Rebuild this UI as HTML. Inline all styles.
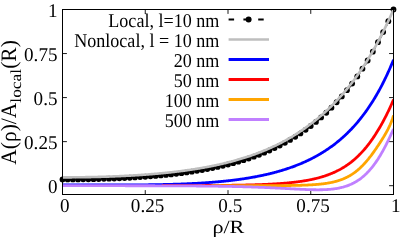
<!DOCTYPE html>
<html><head><meta charset="utf-8"><title>chart</title>
<style>html,body{margin:0;padding:0;background:#fff;}body{width:407px;height:244px;overflow:hidden;font-family:"Liberation Serif",serif;}</style>
</head><body>
<svg width="407" height="244" viewBox="0 0 407 244" style="display:block">
<rect x="0" y="0" width="407" height="244" fill="#fff"/>
<defs><clipPath id="d"><rect x="62.50" y="9.50" width="331.50" height="185.00"/></clipPath><clipPath id="c"><rect x="59.00" y="6.00" width="338.00" height="188.50"/></clipPath></defs>
<path d="M145.25,194.5 v-4.4 M145.25,9.5 v4.4 M228.00,194.5 v-4.4 M228.00,9.5 v4.4 M310.75,194.5 v-4.4 M310.75,9.5 v4.4 M62.5,185.69 h4.4 M393.5,185.69 h-4.4 M62.5,141.64 h4.4 M393.5,141.64 h-4.4 M62.5,97.59 h4.4 M393.5,97.59 h-4.4 M62.5,53.55 h4.4 M393.5,53.55 h-4.4" stroke="#000" stroke-width="0.9" fill="none"/>
<g clip-path="url(#c)">
<path d="M62.50,179.46 L63.33,179.46 L64.16,179.46 L64.99,179.46 L65.82,179.46 L66.65,179.46 L67.48,179.46 L68.31,179.45 L69.14,179.45 L69.97,179.45 L70.80,179.44 L71.63,179.44 L72.45,179.43 L73.28,179.43 L74.11,179.42 L74.94,179.42 L75.77,179.41 L76.60,179.40 L77.43,179.39 L78.26,179.39 L79.09,179.38 L79.92,179.37 L80.75,179.36 L81.58,179.35 L82.41,179.34 L83.24,179.32 L84.07,179.31 L84.90,179.30 L85.73,179.29 L86.56,179.27 L87.39,179.26 L88.22,179.24 L89.05,179.23 L89.88,179.21 L90.71,179.20 L91.54,179.18 L92.36,179.16 L93.19,179.14 L94.02,179.12 L94.85,179.10 L95.68,179.09 L96.51,179.06 L97.34,179.04 L98.17,179.02 L99.00,179.00 L99.83,178.98 L100.66,178.96 L101.49,178.93 L102.32,178.91 L103.15,178.88 L103.98,178.86 L104.81,178.83 L105.64,178.80 L106.47,178.78 L107.30,178.75 L108.13,178.72 L108.96,178.69 L109.79,178.66 L110.62,178.63 L111.44,178.60 L112.27,178.57 L113.10,178.54 L113.93,178.50 L114.76,178.47 L115.59,178.44 L116.42,178.40 L117.25,178.37 L118.08,178.33 L118.91,178.29 L119.74,178.26 L120.57,178.22 L121.40,178.18 L122.23,178.14 L123.06,178.10 L123.89,178.06 L124.72,178.02 L125.55,177.98 L126.38,177.93 L127.21,177.89 L128.04,177.85 L128.87,177.80 L129.70,177.76 L130.53,177.71 L131.35,177.66 L132.18,177.61 L133.01,177.56 L133.84,177.52 L134.67,177.47 L135.50,177.41 L136.33,177.36 L137.16,177.31 L137.99,177.26 L138.82,177.20 L139.65,177.15 L140.48,177.09 L141.31,177.03 L142.14,176.98 L142.97,176.92 L143.80,176.86 L144.63,176.80 L145.46,176.74 L146.29,176.68 L147.12,176.61 L147.95,176.55 L148.78,176.49 L149.61,176.42 L150.43,176.35 L151.26,176.29 L152.09,176.22 L152.92,176.15 L153.75,176.08 L154.58,176.01 L155.41,175.94 L156.24,175.86 L157.07,175.79 L157.90,175.72 L158.73,175.64 L159.56,175.56 L160.39,175.49 L161.22,175.41 L162.05,175.33 L162.88,175.25 L163.71,175.16 L164.54,175.08 L165.37,175.00 L166.20,174.91 L167.03,174.82 L167.86,174.74 L168.69,174.65 L169.52,174.56 L170.34,174.47 L171.17,174.38 L172.00,174.28 L172.83,174.19 L173.66,174.09 L174.49,174.00 L175.32,173.90 L176.15,173.80 L176.98,173.70 L177.81,173.60 L178.64,173.49 L179.47,173.39 L180.30,173.28 L181.13,173.18 L181.96,173.07 L182.79,172.96 L183.62,172.85 L184.45,172.74 L185.28,172.62 L186.11,172.51 L186.94,172.39 L187.77,172.27 L188.60,172.15 L189.42,172.03 L190.25,171.91 L191.08,171.79 L191.91,171.66 L192.74,171.54 L193.57,171.41 L194.40,171.28 L195.23,171.15 L196.06,171.02 L196.89,170.88 L197.72,170.75 L198.55,170.61 L199.38,170.47 L200.21,170.33 L201.04,170.19 L201.87,170.04 L202.70,169.90 L203.53,169.75 L204.36,169.60 L205.19,169.45 L206.02,169.30 L206.85,169.14 L207.68,168.98 L208.51,168.83 L209.33,168.67 L210.16,168.50 L210.99,168.34 L211.82,168.17 L212.65,168.01 L213.48,167.84 L214.31,167.66 L215.14,167.49 L215.97,167.31 L216.80,167.14 L217.63,166.96 L218.46,166.77 L219.29,166.59 L220.12,166.40 L220.95,166.22 L221.78,166.02 L222.61,165.83 L223.44,165.64 L224.27,165.44 L225.10,165.24 L225.93,165.04 L226.76,164.83 L227.59,164.63 L228.41,164.42 L229.24,164.21 L230.07,163.99 L230.90,163.78 L231.73,163.56 L232.56,163.34 L233.39,163.11 L234.22,162.89 L235.05,162.66 L235.88,162.42 L236.71,162.19 L237.54,161.95 L238.37,161.71 L239.20,161.47 L240.03,161.23 L240.86,160.98 L241.69,160.73 L242.52,160.47 L243.35,160.22 L244.18,159.96 L245.01,159.69 L245.84,159.43 L246.67,159.16 L247.49,158.89 L248.32,158.61 L249.15,158.33 L249.98,158.05 L250.81,157.77 L251.64,157.48 L252.47,157.19 L253.30,156.90 L254.13,156.60 L254.96,156.30 L255.79,155.99 L256.62,155.69 L257.45,155.37 L258.28,155.06 L259.11,154.74 L259.94,154.42 L260.77,154.09 L261.60,153.77 L262.43,153.43 L263.26,153.10 L264.09,152.76 L264.92,152.41 L265.75,152.06 L266.58,151.71 L267.40,151.36 L268.23,151.00 L269.06,150.63 L269.89,150.26 L270.72,149.89 L271.55,149.52 L272.38,149.14 L273.21,148.75 L274.04,148.36 L274.87,147.97 L275.70,147.57 L276.53,147.17 L277.36,146.77 L278.19,146.35 L279.02,145.94 L279.85,145.52 L280.68,145.09 L281.51,144.66 L282.34,144.23 L283.17,143.79 L284.00,143.35 L284.83,142.90 L285.66,142.44 L286.48,141.98 L287.31,141.52 L288.14,141.05 L288.97,140.58 L289.80,140.10 L290.63,139.61 L291.46,139.12 L292.29,138.62 L293.12,138.12 L293.95,137.61 L294.78,137.10 L295.61,136.58 L296.44,136.06 L297.27,135.53 L298.10,134.99 L298.93,134.45 L299.76,133.90 L300.59,133.34 L301.42,132.78 L302.25,132.21 L303.08,131.64 L303.91,131.06 L304.74,130.47 L305.57,129.88 L306.39,129.28 L307.22,128.67 L308.05,128.06 L308.88,127.44 L309.71,126.81 L310.54,126.18 L311.37,125.54 L312.20,124.89 L313.03,124.24 L313.86,123.57 L314.69,122.90 L315.52,122.22 L316.35,121.54 L317.18,120.85 L318.01,120.15 L318.84,119.44 L319.67,118.72 L320.50,118.00 L321.33,117.26 L322.16,116.52 L322.99,115.77 L323.82,115.02 L324.65,114.25 L325.47,113.48 L326.30,112.69 L327.13,111.90 L327.96,111.10 L328.79,110.29 L329.62,109.48 L330.45,108.65 L331.28,107.81 L332.11,106.97 L332.94,106.12 L333.77,105.25 L334.60,104.38 L335.43,103.50 L336.26,102.61 L337.09,101.71 L337.92,100.79 L338.75,99.87 L339.58,98.94 L340.41,98.00 L341.24,97.05 L342.07,96.09 L342.90,95.11 L343.73,94.13 L344.56,93.13 L345.38,92.13 L346.21,91.11 L347.04,90.08 L347.87,89.04 L348.70,87.99 L349.53,86.93 L350.36,85.85 L351.19,84.76 L352.02,83.67 L352.85,82.55 L353.68,81.43 L354.51,80.29 L355.34,79.14 L356.17,77.98 L357.00,76.81 L357.83,75.62 L358.66,74.42 L359.49,73.20 L360.32,71.97 L361.15,70.73 L361.98,69.47 L362.81,68.20 L363.64,66.92 L364.46,65.62 L365.29,64.30 L366.12,62.98 L366.95,61.63 L367.78,60.27 L368.61,58.90 L369.44,57.51 L370.27,56.10 L371.10,54.67 L371.93,53.23 L372.76,51.77 L373.59,50.30 L374.42,48.81 L375.25,47.30 L376.08,45.77 L376.91,44.23 L377.74,42.67 L378.57,41.09 L379.40,39.49 L380.23,37.88 L381.06,36.25 L381.89,34.60 L382.72,32.93 L383.55,31.24 L384.37,29.54 L385.20,27.81 L386.03,26.07 L386.86,24.31 L387.69,22.52 L388.52,20.72 L389.35,18.90 L390.18,17.06 L391.01,15.20 L391.84,13.32 L392.67,11.42 L393.50,9.50" stroke="#000" stroke-width="2" fill="none" stroke-dasharray="5.5 9.3"/>
<circle cx="62.50" cy="179.46" r="2.9" fill="#000"/>
<circle cx="67.67" cy="179.46" r="2.9" fill="#000"/>
<circle cx="72.84" cy="179.43" r="2.9" fill="#000"/>
<circle cx="78.02" cy="179.39" r="2.9" fill="#000"/>
<circle cx="83.19" cy="179.32" r="2.9" fill="#000"/>
<circle cx="88.36" cy="179.24" r="2.9" fill="#000"/>
<circle cx="93.53" cy="179.14" r="2.9" fill="#000"/>
<circle cx="98.70" cy="179.01" r="2.9" fill="#000"/>
<circle cx="103.88" cy="178.86" r="2.9" fill="#000"/>
<circle cx="109.05" cy="178.69" r="2.9" fill="#000"/>
<circle cx="114.22" cy="178.49" r="2.9" fill="#000"/>
<circle cx="119.39" cy="178.27" r="2.9" fill="#000"/>
<circle cx="124.56" cy="178.03" r="2.9" fill="#000"/>
<circle cx="129.73" cy="177.75" r="2.9" fill="#000"/>
<circle cx="134.91" cy="177.45" r="2.9" fill="#000"/>
<circle cx="140.08" cy="177.12" r="2.9" fill="#000"/>
<circle cx="145.25" cy="176.75" r="2.9" fill="#000"/>
<circle cx="150.42" cy="176.36" r="2.9" fill="#000"/>
<circle cx="155.59" cy="175.92" r="2.9" fill="#000"/>
<circle cx="160.77" cy="175.45" r="2.9" fill="#000"/>
<circle cx="165.94" cy="174.94" r="2.9" fill="#000"/>
<circle cx="171.11" cy="174.38" r="2.9" fill="#000"/>
<circle cx="176.28" cy="173.78" r="2.9" fill="#000"/>
<circle cx="181.45" cy="173.13" r="2.9" fill="#000"/>
<circle cx="186.62" cy="172.44" r="2.9" fill="#000"/>
<circle cx="191.80" cy="171.68" r="2.9" fill="#000"/>
<circle cx="196.97" cy="170.87" r="2.9" fill="#000"/>
<circle cx="202.14" cy="169.99" r="2.9" fill="#000"/>
<circle cx="207.31" cy="169.05" r="2.9" fill="#000"/>
<circle cx="212.48" cy="168.04" r="2.9" fill="#000"/>
<circle cx="217.66" cy="166.95" r="2.9" fill="#000"/>
<circle cx="222.83" cy="165.78" r="2.9" fill="#000"/>
<circle cx="228.00" cy="164.52" r="2.9" fill="#000"/>
<circle cx="233.17" cy="163.17" r="2.9" fill="#000"/>
<circle cx="238.34" cy="161.72" r="2.9" fill="#000"/>
<circle cx="243.52" cy="160.16" r="2.9" fill="#000"/>
<circle cx="248.69" cy="158.49" r="2.9" fill="#000"/>
<circle cx="253.86" cy="156.70" r="2.9" fill="#000"/>
<circle cx="259.03" cy="154.77" r="2.9" fill="#000"/>
<circle cx="264.20" cy="152.71" r="2.9" fill="#000"/>
<circle cx="269.38" cy="150.50" r="2.9" fill="#000"/>
<circle cx="274.55" cy="148.12" r="2.9" fill="#000"/>
<circle cx="279.72" cy="145.58" r="2.9" fill="#000"/>
<circle cx="284.89" cy="142.86" r="2.9" fill="#000"/>
<circle cx="290.06" cy="139.94" r="2.9" fill="#000"/>
<circle cx="295.23" cy="136.82" r="2.9" fill="#000"/>
<circle cx="300.41" cy="133.46" r="2.9" fill="#000"/>
<circle cx="305.58" cy="129.87" r="2.9" fill="#000"/>
<circle cx="310.75" cy="126.02" r="2.9" fill="#000"/>
<circle cx="315.92" cy="121.89" r="2.9" fill="#000"/>
<circle cx="321.09" cy="117.47" r="2.9" fill="#000"/>
<circle cx="326.27" cy="112.73" r="2.9" fill="#000"/>
<circle cx="331.44" cy="107.66" r="2.9" fill="#000"/>
<circle cx="336.61" cy="102.23" r="2.9" fill="#000"/>
<circle cx="341.78" cy="96.42" r="2.9" fill="#000"/>
<circle cx="346.95" cy="90.19" r="2.9" fill="#000"/>
<circle cx="352.12" cy="83.53" r="2.9" fill="#000"/>
<circle cx="357.30" cy="76.38" r="2.9" fill="#000"/>
<circle cx="362.47" cy="68.72" r="2.9" fill="#000"/>
<circle cx="367.64" cy="60.51" r="2.9" fill="#000"/>
<circle cx="372.81" cy="51.68" r="2.9" fill="#000"/>
<circle cx="377.98" cy="42.20" r="2.9" fill="#000"/>
<circle cx="383.16" cy="32.03" r="2.9" fill="#000"/>
<circle cx="388.33" cy="21.15" r="2.9" fill="#000"/>
<circle cx="393.50" cy="9.50" r="2.9" fill="#000"/>
</g>
<path d="M62.50,177.35 L63.33,177.35 L64.16,177.35 L64.99,177.35 L65.82,177.35 L66.65,177.34 L67.48,177.34 L68.31,177.34 L69.14,177.34 L69.97,177.33 L70.80,177.33 L71.63,177.33 L72.45,177.32 L73.28,177.31 L74.11,177.31 L74.94,177.30 L75.77,177.30 L76.60,177.29 L77.43,177.28 L78.26,177.27 L79.09,177.26 L79.92,177.25 L80.75,177.24 L81.58,177.23 L82.41,177.22 L83.24,177.21 L84.07,177.20 L84.90,177.18 L85.73,177.17 L86.56,177.16 L87.39,177.14 L88.22,177.13 L89.05,177.11 L89.88,177.10 L90.71,177.08 L91.54,177.06 L92.36,177.05 L93.19,177.03 L94.02,177.01 L94.85,176.99 L95.68,176.97 L96.51,176.95 L97.34,176.93 L98.17,176.91 L99.00,176.89 L99.83,176.86 L100.66,176.84 L101.49,176.82 L102.32,176.79 L103.15,176.77 L103.98,176.74 L104.81,176.72 L105.64,176.69 L106.47,176.66 L107.30,176.63 L108.13,176.61 L108.96,176.58 L109.79,176.55 L110.62,176.52 L111.44,176.49 L112.27,176.46 L113.10,176.42 L113.93,176.39 L114.76,176.36 L115.59,176.32 L116.42,176.29 L117.25,176.25 L118.08,176.22 L118.91,176.18 L119.74,176.14 L120.57,176.10 L121.40,176.07 L122.23,176.03 L123.06,175.99 L123.89,175.95 L124.72,175.90 L125.55,175.86 L126.38,175.82 L127.21,175.78 L128.04,175.73 L128.87,175.69 L129.70,175.64 L130.53,175.59 L131.35,175.55 L132.18,175.50 L133.01,175.45 L133.84,175.40 L134.67,175.35 L135.50,175.30 L136.33,175.25 L137.16,175.20 L137.99,175.14 L138.82,175.09 L139.65,175.03 L140.48,174.98 L141.31,174.92 L142.14,174.86 L142.97,174.80 L143.80,174.75 L144.63,174.69 L145.46,174.62 L146.29,174.56 L147.12,174.50 L147.95,174.44 L148.78,174.37 L149.61,174.31 L150.43,174.24 L151.26,174.17 L152.09,174.11 L152.92,174.04 L153.75,173.97 L154.58,173.90 L155.41,173.82 L156.24,173.75 L157.07,173.68 L157.90,173.60 L158.73,173.53 L159.56,173.45 L160.39,173.37 L161.22,173.29 L162.05,173.21 L162.88,173.13 L163.71,173.05 L164.54,172.97 L165.37,172.88 L166.20,172.80 L167.03,172.71 L167.86,172.62 L168.69,172.53 L169.52,172.44 L170.34,172.35 L171.17,172.26 L172.00,172.17 L172.83,172.07 L173.66,171.98 L174.49,171.88 L175.32,171.78 L176.15,171.68 L176.98,171.58 L177.81,171.48 L178.64,171.38 L179.47,171.27 L180.30,171.17 L181.13,171.06 L181.96,170.95 L182.79,170.84 L183.62,170.73 L184.45,170.62 L185.28,170.51 L186.11,170.39 L186.94,170.28 L187.77,170.16 L188.60,170.04 L189.42,169.92 L190.25,169.80 L191.08,169.67 L191.91,169.55 L192.74,169.42 L193.57,169.30 L194.40,169.17 L195.23,169.03 L196.06,168.90 L196.89,168.77 L197.72,168.63 L198.55,168.49 L199.38,168.35 L200.21,168.21 L201.04,168.07 L201.87,167.93 L202.70,167.78 L203.53,167.63 L204.36,167.48 L205.19,167.33 L206.02,167.18 L206.85,167.03 L207.68,166.87 L208.51,166.71 L209.33,166.55 L210.16,166.39 L210.99,166.23 L211.82,166.06 L212.65,165.89 L213.48,165.72 L214.31,165.55 L215.14,165.38 L215.97,165.20 L216.80,165.02 L217.63,164.84 L218.46,164.66 L219.29,164.48 L220.12,164.29 L220.95,164.10 L221.78,163.91 L222.61,163.72 L223.44,163.52 L224.27,163.33 L225.10,163.13 L225.93,162.92 L226.76,162.72 L227.59,162.51 L228.41,162.30 L229.24,162.09 L230.07,161.88 L230.90,161.66 L231.73,161.44 L232.56,161.22 L233.39,161.00 L234.22,160.77 L235.05,160.54 L235.88,160.31 L236.71,160.08 L237.54,159.84 L238.37,159.60 L239.20,159.36 L240.03,159.11 L240.86,158.86 L241.69,158.61 L242.52,158.36 L243.35,158.10 L244.18,157.84 L245.01,157.58 L245.84,157.31 L246.67,157.04 L247.49,156.77 L248.32,156.50 L249.15,156.22 L249.98,155.94 L250.81,155.65 L251.64,155.37 L252.47,155.08 L253.30,154.78 L254.13,154.48 L254.96,154.18 L255.79,153.88 L256.62,153.57 L257.45,153.26 L258.28,152.95 L259.11,152.63 L259.94,152.31 L260.77,151.98 L261.60,151.65 L262.43,151.32 L263.26,150.98 L264.09,150.64 L264.92,150.30 L265.75,149.95 L266.58,149.60 L267.40,149.24 L268.23,148.88 L269.06,148.52 L269.89,148.15 L270.72,147.78 L271.55,147.40 L272.38,147.02 L273.21,146.64 L274.04,146.25 L274.87,145.86 L275.70,145.46 L276.53,145.06 L277.36,144.65 L278.19,144.24 L279.02,143.82 L279.85,143.40 L280.68,142.98 L281.51,142.55 L282.34,142.12 L283.17,141.68 L284.00,141.23 L284.83,140.78 L285.66,140.33 L286.48,139.87 L287.31,139.41 L288.14,138.94 L288.97,138.46 L289.80,137.98 L290.63,137.50 L291.46,137.00 L292.29,136.51 L293.12,136.01 L293.95,135.50 L294.78,134.99 L295.61,134.47 L296.44,133.94 L297.27,133.41 L298.10,132.87 L298.93,132.33 L299.76,131.78 L300.59,131.23 L301.42,130.67 L302.25,130.10 L303.08,129.53 L303.91,128.95 L304.74,128.36 L305.57,127.77 L306.39,127.17 L307.22,126.56 L308.05,125.95 L308.88,125.33 L309.71,124.70 L310.54,124.07 L311.37,123.44 L312.20,122.81 L313.03,122.18 L313.86,121.54 L314.69,120.89 L315.52,120.23 L316.35,119.57 L317.18,118.90 L318.01,118.22 L318.84,117.53 L319.67,116.83 L320.50,116.13 L321.33,115.42 L322.16,114.70 L322.99,113.97 L323.82,113.24 L324.65,112.49 L325.47,111.74 L326.30,110.98 L327.13,110.21 L327.96,109.43 L328.79,108.64 L329.62,107.84 L330.45,107.04 L331.28,106.22 L332.11,105.40 L332.94,104.57 L333.77,103.73 L334.60,102.88 L335.43,102.01 L336.26,101.14 L337.09,100.26 L337.92,99.37 L338.75,98.47 L339.58,97.56 L340.41,96.64 L341.24,95.71 L342.07,94.77 L342.90,93.82 L343.73,92.86 L344.56,91.88 L345.38,90.90 L346.21,89.90 L347.04,88.89 L347.87,87.88 L348.70,86.85 L349.53,85.80 L350.36,84.75 L351.19,83.68 L352.02,82.61 L352.85,81.52 L353.68,80.41 L354.51,79.30 L355.34,78.17 L356.17,77.03 L357.00,75.87 L357.83,74.71 L358.66,73.53 L359.49,72.33 L360.32,71.13 L361.15,69.90 L361.98,68.67 L362.81,67.42 L363.64,66.15 L364.46,64.88 L365.29,63.58 L366.12,62.28 L366.95,60.95 L367.78,59.62 L368.61,58.26 L369.44,56.89 L370.27,55.50 L371.10,54.10 L371.93,52.68 L372.76,51.24 L373.59,49.79 L374.42,48.32 L375.25,46.83 L376.08,45.33 L376.91,43.81 L377.74,42.27 L378.57,40.71 L379.40,39.13 L380.23,37.54 L381.06,35.93 L381.89,34.30 L382.72,32.65 L383.55,30.99 L384.37,29.30 L385.20,27.60 L386.03,25.88 L386.86,24.14 L387.69,22.38 L388.52,20.60 L389.35,18.80 L390.18,16.98 L391.01,15.14 L391.84,13.28 L392.67,11.40 L393.50,9.50" stroke="#bebebe" stroke-width="2.6" fill="none"/>
<path d="M62.50,185.00 L63.16,185.00 L63.83,185.00 L64.49,185.00 L65.15,185.00 L65.82,185.00 L66.48,185.00 L67.14,185.00 L67.81,185.00 L68.47,185.00 L69.13,185.00 L69.80,185.00 L70.46,185.00 L71.12,185.00 L71.79,185.00 L72.45,185.00 L73.11,185.00 L73.78,185.00 L74.44,185.00 L75.10,185.00 L75.77,185.00 L76.43,185.00 L77.09,185.00 L77.76,185.00 L78.42,185.00 L79.08,185.00 L79.75,185.00 L80.41,185.00 L81.07,185.00 L81.74,185.00 L82.40,185.00 L83.06,185.00 L83.73,185.00 L84.39,185.00 L85.05,185.00 L85.72,185.00 L86.38,185.01 L87.04,185.01 L87.71,185.01 L88.37,185.01 L89.03,185.01 L89.70,185.01 L90.36,185.01 L91.02,185.01 L91.69,185.01 L92.35,185.01 L93.01,185.01 L93.68,185.01 L94.34,185.01 L95.00,185.01 L95.67,185.01 L96.33,185.01 L96.99,185.01 L97.66,185.01 L98.32,185.01 L98.98,185.01 L99.65,185.01 L100.31,185.01 L100.97,185.01 L101.64,185.01 L102.30,185.00 L102.96,185.00 L103.63,185.00 L104.29,185.00 L104.95,185.00 L105.62,185.00 L106.28,185.00 L106.94,185.00 L107.61,185.00 L108.27,185.00 L108.93,185.00 L109.60,185.00 L110.26,185.00 L110.92,185.00 L111.59,185.00 L112.25,184.99 L112.91,184.99 L113.58,184.99 L114.24,184.99 L114.90,184.99 L115.57,184.99 L116.23,184.99 L116.89,184.99 L117.56,184.98 L118.22,184.98 L118.88,184.98 L119.55,184.98 L120.21,184.98 L120.87,184.97 L121.54,184.97 L122.20,184.97 L122.86,184.97 L123.53,184.97 L124.19,184.96 L124.85,184.96 L125.52,184.96 L126.18,184.95 L126.84,184.95 L127.51,184.95 L128.17,184.95 L128.83,184.94 L129.50,184.94 L130.16,184.94 L130.82,184.93 L131.49,184.93 L132.15,184.92 L132.81,184.92 L133.48,184.92 L134.14,184.91 L134.80,184.91 L135.47,184.90 L136.13,184.90 L136.79,184.89 L137.46,184.89 L138.12,184.88 L138.78,184.88 L139.45,184.87 L140.11,184.86 L140.77,184.86 L141.44,184.85 L142.10,184.85 L142.76,184.84 L143.43,184.83 L144.09,184.83 L144.75,184.82 L145.42,184.81 L146.08,184.80 L146.74,184.80 L147.41,184.79 L148.07,184.78 L148.73,184.77 L149.40,184.76 L150.06,184.75 L150.72,184.74 L151.39,184.74 L152.05,184.73 L152.71,184.72 L153.38,184.71 L154.04,184.70 L154.70,184.69 L155.37,184.67 L156.03,184.66 L156.69,184.65 L157.36,184.64 L158.02,184.63 L158.68,184.62 L159.35,184.60 L160.01,184.59 L160.67,184.58 L161.34,184.57 L162.00,184.55 L162.66,184.54 L163.33,184.52 L163.99,184.51 L164.65,184.49 L165.32,184.48 L165.98,184.46 L166.64,184.45 L167.31,184.43 L167.97,184.42 L168.63,184.40 L169.30,184.38 L169.96,184.36 L170.62,184.35 L171.29,184.33 L171.95,184.31 L172.61,184.29 L173.28,184.27 L173.94,184.25 L174.60,184.23 L175.27,184.21 L175.93,184.19 L176.59,184.17 L177.26,184.15 L177.92,184.12 L178.58,184.10 L179.25,184.08 L179.91,184.06 L180.57,184.03 L181.24,184.01 L181.90,183.98 L182.56,183.96 L183.23,183.93 L183.89,183.91 L184.55,183.88 L185.22,183.85 L185.88,183.82 L186.54,183.80 L187.21,183.77 L187.87,183.74 L188.53,183.71 L189.20,183.68 L189.86,183.65 L190.52,183.62 L191.19,183.59 L191.85,183.55 L192.51,183.52 L193.18,183.49 L193.84,183.45 L194.50,183.42 L195.17,183.39 L195.83,183.35 L196.49,183.31 L197.16,183.28 L197.82,183.24 L198.48,183.20 L199.15,183.16 L199.81,183.12 L200.47,183.08 L201.14,183.04 L201.80,183.00 L202.46,182.96 L203.13,182.92 L203.79,182.88 L204.45,182.83 L205.12,182.79 L205.78,182.74 L206.44,182.70 L207.11,182.65 L207.77,182.60 L208.43,182.56 L209.10,182.51 L209.76,182.46 L210.42,182.41 L211.09,182.36 L211.75,182.31 L212.41,182.25 L213.08,182.20 L213.74,182.15 L214.40,182.09 L215.07,182.04 L215.73,181.98 L216.39,181.92 L217.06,181.87 L217.72,181.81 L218.38,181.75 L219.05,181.69 L219.71,181.63 L220.37,181.56 L221.04,181.50 L221.70,181.44 L222.36,181.37 L223.03,181.31 L223.69,181.24 L224.35,181.17 L225.02,181.10 L225.68,181.03 L226.34,180.96 L227.01,180.89 L227.67,180.82 L228.33,180.75 L228.99,180.67 L229.66,180.60 L230.32,180.52 L230.98,180.44 L231.65,180.37 L232.31,180.29 L232.97,180.21 L233.64,180.12 L234.30,180.04 L234.96,179.96 L235.63,179.87 L236.29,179.79 L236.95,179.70 L237.62,179.61 L238.28,179.52 L238.94,179.43 L239.61,179.34 L240.27,179.25 L240.93,179.15 L241.60,179.06 L242.26,178.96 L242.92,178.86 L243.59,178.76 L244.25,178.66 L244.91,178.56 L245.58,178.46 L246.24,178.35 L246.90,178.25 L247.57,178.14 L248.23,178.03 L248.89,177.92 L249.56,177.81 L250.22,177.70 L250.88,177.59 L251.55,177.47 L252.21,177.36 L252.87,177.24 L253.54,177.12 L254.20,177.00 L254.86,176.87 L255.53,176.75 L256.19,176.63 L256.85,176.50 L257.52,176.37 L258.18,176.24 L258.84,176.11 L259.51,175.97 L260.17,175.84 L260.83,175.70 L261.50,175.56 L262.16,175.42 L262.82,175.28 L263.49,175.14 L264.15,174.99 L264.81,174.85 L265.48,174.70 L266.14,174.55 L266.80,174.40 L267.47,174.24 L268.13,174.09 L268.79,173.93 L269.46,173.77 L270.12,173.61 L270.78,173.44 L271.45,173.28 L272.11,173.11 L272.77,172.94 L273.44,172.77 L274.10,172.60 L274.76,172.42 L275.43,172.24 L276.09,172.06 L276.75,171.88 L277.42,171.70 L278.08,171.51 L278.74,171.32 L279.41,171.13 L280.07,170.94 L280.73,170.75 L281.40,170.55 L282.06,170.35 L282.72,170.15 L283.39,169.94 L284.05,169.74 L284.71,169.53 L285.38,169.31 L286.04,169.10 L286.70,168.88 L287.37,168.66 L288.03,168.44 L288.69,168.22 L289.36,167.99 L290.02,167.76 L290.68,167.53 L291.35,167.29 L292.01,167.06 L292.67,166.82 L293.34,166.57 L294.00,166.33 L294.66,166.08 L295.33,165.83 L295.99,165.57 L296.65,165.31 L297.32,165.05 L297.98,164.79 L298.64,164.52 L299.31,164.25 L299.97,163.98 L300.63,163.70 L301.30,163.42 L301.96,163.14 L302.62,162.85 L303.29,162.56 L303.95,162.27 L304.61,161.97 L305.28,161.67 L305.94,161.37 L306.60,161.06 L307.27,160.75 L307.93,160.44 L308.59,160.12 L309.26,159.80 L309.92,159.47 L310.58,159.14 L311.25,158.81 L311.91,158.47 L312.57,158.13 L313.24,157.79 L313.90,157.44 L314.56,157.08 L315.23,156.73 L315.89,156.37 L316.55,156.00 L317.22,155.63 L317.88,155.26 L318.54,154.88 L319.21,154.49 L319.87,154.10 L320.53,153.71 L321.20,153.31 L321.86,152.91 L322.52,152.50 L323.19,152.09 L323.85,151.68 L324.51,151.25 L325.18,150.83 L325.84,150.40 L326.50,149.96 L327.17,149.52 L327.83,149.07 L328.49,148.62 L329.16,148.16 L329.82,147.69 L330.48,147.22 L331.15,146.75 L331.81,146.27 L332.47,145.78 L333.14,145.29 L333.80,144.79 L334.46,144.28 L335.13,143.77 L335.79,143.25 L336.45,142.73 L337.12,142.20 L337.78,141.66 L338.44,141.12 L339.11,140.57 L339.77,140.01 L340.43,139.45 L341.10,138.88 L341.76,138.30 L342.42,137.72 L343.09,137.13 L343.75,136.53 L344.41,135.92 L345.08,135.30 L345.74,134.68 L346.40,134.05 L347.07,133.41 L347.73,132.77 L348.39,132.11 L349.06,131.45 L349.72,130.78 L350.38,130.10 L351.05,129.41 L351.71,128.72 L352.37,128.01 L353.04,127.30 L353.70,126.57 L354.36,125.84 L355.03,125.10 L355.69,124.35 L356.35,123.58 L357.02,122.81 L357.68,122.03 L358.34,121.24 L359.01,120.44 L359.67,119.63 L360.33,118.80 L361.00,117.97 L361.66,117.13 L362.32,116.27 L362.99,115.41 L363.65,114.53 L364.31,113.64 L364.98,112.74 L365.64,111.82 L366.30,110.90 L366.97,109.96 L367.63,109.01 L368.29,108.05 L368.96,107.07 L369.62,106.08 L370.28,105.08 L370.95,104.07 L371.61,103.04 L372.27,102.00 L372.94,100.94 L373.60,99.87 L374.26,98.78 L374.93,97.68 L375.59,96.57 L376.25,95.44 L376.92,94.29 L377.58,93.13 L378.24,91.95 L378.91,90.76 L379.57,89.55 L380.23,88.32 L380.90,87.07 L381.56,85.81 L382.22,84.53 L382.89,83.24 L383.55,81.92 L384.21,80.59 L384.88,79.24 L385.54,77.87 L386.20,76.48 L386.87,75.07 L387.53,73.64 L388.19,72.19 L388.86,70.72 L389.52,69.23 L390.18,67.72 L390.85,66.18 L391.51,64.63 L392.17,63.05 L392.84,61.45 L393.50,59.82" stroke="#0000ff" stroke-width="2.8" fill="none" stroke-linejoin="round" clip-path="url(#d)"/>
<path d="M161.80,185.66 L162.26,185.66 L162.73,185.66 L163.19,185.66 L163.66,185.66 L164.12,185.66 L164.59,185.66 L165.05,185.65 L165.51,185.65 L165.98,185.65 L166.44,185.65 L166.91,185.65 L167.37,185.65 L167.84,185.65 L168.30,185.65 L168.76,185.65 L169.23,185.65 L169.69,185.65 L170.16,185.65 L170.62,185.65 L171.09,185.64 L171.55,185.64 L172.02,185.64 L172.48,185.64 L172.94,185.64 L173.41,185.64 L173.87,185.64 L174.34,185.64 L174.80,185.64 L175.27,185.64 L175.73,185.63 L176.19,185.63 L176.66,185.63 L177.12,185.63 L177.59,185.63 L178.05,185.63 L178.52,185.63 L178.98,185.63 L179.44,185.63 L179.91,185.62 L180.37,185.62 L180.84,185.62 L181.30,185.62 L181.77,185.62 L182.23,185.62 L182.69,185.62 L183.16,185.62 L183.62,185.61 L184.09,185.61 L184.55,185.61 L185.02,185.61 L185.48,185.61 L185.95,185.61 L186.41,185.61 L186.87,185.60 L187.34,185.60 L187.80,185.60 L188.27,185.60 L188.73,185.60 L189.20,185.60 L189.66,185.60 L190.12,185.59 L190.59,185.59 L191.05,185.59 L191.52,185.59 L191.98,185.59 L192.45,185.59 L192.91,185.58 L193.37,185.58 L193.84,185.58 L194.30,185.58 L194.77,185.58 L195.23,185.57 L195.70,185.57 L196.16,185.57 L196.62,185.57 L197.09,185.57 L197.55,185.56 L198.02,185.56 L198.48,185.56 L198.95,185.56 L199.41,185.56 L199.87,185.55 L200.34,185.55 L200.80,185.55 L201.27,185.55 L201.73,185.54 L202.20,185.54 L202.66,185.54 L203.13,185.54 L203.59,185.53 L204.05,185.53 L204.52,185.53 L204.98,185.53 L205.45,185.52 L205.91,185.52 L206.38,185.52 L206.84,185.51 L207.30,185.51 L207.77,185.51 L208.23,185.51 L208.70,185.50 L209.16,185.50 L209.63,185.50 L210.09,185.49 L210.55,185.49 L211.02,185.49 L211.48,185.48 L211.95,185.48 L212.41,185.48 L212.88,185.47 L213.34,185.47 L213.80,185.47 L214.27,185.46 L214.73,185.46 L215.20,185.46 L215.66,185.45 L216.13,185.45 L216.59,185.44 L217.06,185.44 L217.52,185.44 L217.98,185.43 L218.45,185.43 L218.91,185.42 L219.38,185.42 L219.84,185.41 L220.31,185.41 L220.77,185.41 L221.23,185.40 L221.70,185.40 L222.16,185.39 L222.63,185.39 L223.09,185.38 L223.56,185.38 L224.02,185.37 L224.48,185.37 L224.95,185.36 L225.41,185.36 L225.88,185.35 L226.34,185.34 L226.81,185.34 L227.27,185.33 L227.73,185.33 L228.20,185.32 L228.66,185.32 L229.13,185.31 L229.59,185.30 L230.06,185.30 L230.52,185.29 L230.98,185.29 L231.45,185.28 L231.91,185.27 L232.38,185.27 L232.84,185.26 L233.31,185.25 L233.77,185.25 L234.24,185.24 L234.70,185.23 L235.16,185.22 L235.63,185.22 L236.09,185.21 L236.56,185.20 L237.02,185.19 L237.49,185.19 L237.95,185.18 L238.41,185.17 L238.88,185.16 L239.34,185.15 L239.81,185.14 L240.27,185.14 L240.74,185.13 L241.20,185.12 L241.66,185.11 L242.13,185.10 L242.59,185.09 L243.06,185.08 L243.52,185.07 L243.99,185.06 L244.45,185.05 L244.91,185.04 L245.38,185.03 L245.84,185.02 L246.31,185.01 L246.77,185.00 L247.24,184.99 L247.70,184.98 L248.17,184.96 L248.63,184.95 L249.09,184.94 L249.56,184.93 L250.02,184.92 L250.49,184.91 L250.95,184.89 L251.42,184.88 L251.88,184.87 L252.34,184.85 L252.81,184.84 L253.27,184.83 L253.74,184.81 L254.20,184.80 L254.67,184.79 L255.13,184.77 L255.59,184.76 L256.06,184.74 L256.52,184.73 L256.99,184.71 L257.45,184.70 L257.92,184.68 L258.38,184.66 L258.84,184.65 L259.31,184.63 L259.77,184.62 L260.24,184.60 L260.70,184.58 L261.17,184.56 L261.63,184.55 L262.09,184.53 L262.56,184.51 L263.02,184.49 L263.49,184.47 L263.95,184.45 L264.42,184.43 L264.88,184.41 L265.35,184.39 L265.81,184.37 L266.27,184.35 L266.74,184.33 L267.20,184.31 L267.67,184.29 L268.13,184.26 L268.60,184.24 L269.06,184.22 L269.52,184.20 L269.99,184.17 L270.45,184.15 L270.92,184.12 L271.38,184.10 L271.85,184.07 L272.31,184.05 L272.77,184.02 L273.24,184.00 L273.70,183.97 L274.17,183.94 L274.63,183.91 L275.10,183.89 L275.56,183.86 L276.02,183.83 L276.49,183.80 L276.95,183.77 L277.42,183.74 L277.88,183.71 L278.35,183.68 L278.81,183.64 L279.28,183.61 L279.74,183.58 L280.20,183.54 L280.67,183.51 L281.13,183.48 L281.60,183.44 L282.06,183.41 L282.53,183.37 L282.99,183.33 L283.45,183.30 L283.92,183.26 L284.38,183.22 L284.85,183.18 L285.31,183.14 L285.78,183.10 L286.24,183.06 L286.70,183.02 L287.17,182.97 L287.63,182.93 L288.10,182.89 L288.56,182.84 L289.03,182.80 L289.49,182.75 L289.95,182.71 L290.42,182.66 L290.88,182.61 L291.35,182.56 L291.81,182.51 L292.28,182.46 L292.74,182.41 L293.21,182.36 L293.67,182.31 L294.13,182.25 L294.60,182.20 L295.06,182.14 L295.53,182.09 L295.99,182.03 L296.46,181.97 L296.92,181.91 L297.38,181.85 L297.85,181.79 L298.31,181.73 L298.78,181.67 L299.24,181.60 L299.71,181.54 L300.17,181.47 L300.63,181.40 L301.10,181.34 L301.56,181.27 L302.03,181.20 L302.49,181.13 L302.96,181.05 L303.42,180.98 L303.88,180.91 L304.35,180.83 L304.81,180.75 L305.28,180.67 L305.74,180.59 L306.21,180.51 L306.67,180.43 L307.13,180.35 L307.60,180.26 L308.06,180.18 L308.53,180.09 L308.99,180.00 L309.46,179.91 L309.92,179.82 L310.39,179.73 L310.85,179.63 L311.31,179.53 L311.78,179.44 L312.24,179.34 L312.71,179.24 L313.17,179.13 L313.64,179.03 L314.10,178.92 L314.56,178.82 L315.03,178.71 L315.49,178.60 L315.96,178.49 L316.42,178.37 L316.89,178.25 L317.35,178.14 L317.81,178.02 L318.28,177.90 L318.74,177.77 L319.21,177.65 L319.67,177.52 L320.14,177.39 L320.60,177.26 L321.06,177.12 L321.53,176.99 L321.99,176.85 L322.46,176.71 L322.92,176.57 L323.39,176.42 L323.85,176.28 L324.32,176.13 L324.78,175.97 L325.24,175.82 L325.71,175.66 L326.17,175.51 L326.64,175.34 L327.10,175.18 L327.57,175.01 L328.03,174.84 L328.49,174.67 L328.96,174.50 L329.42,174.32 L329.89,174.14 L330.35,173.96 L330.82,173.77 L331.28,173.58 L331.74,173.39 L332.21,173.20 L332.67,173.00 L333.14,172.80 L333.60,172.60 L334.07,172.39 L334.53,172.18 L334.99,171.97 L335.46,171.75 L335.92,171.53 L336.39,171.31 L336.85,171.08 L337.32,170.85 L337.78,170.62 L338.24,170.38 L338.71,170.14 L339.17,169.89 L339.64,169.64 L340.10,169.39 L340.57,169.14 L341.03,168.88 L341.50,168.61 L341.96,168.34 L342.42,168.07 L342.89,167.79 L343.35,167.51 L343.82,167.23 L344.28,166.94 L344.75,166.65 L345.21,166.35 L345.67,166.05 L346.14,165.74 L346.60,165.43 L347.07,165.11 L347.53,164.79 L348.00,164.46 L348.46,164.13 L348.92,163.80 L349.39,163.46 L349.85,163.11 L350.32,162.76 L350.78,162.41 L351.25,162.05 L351.71,161.68 L352.17,161.31 L352.64,160.93 L353.10,160.55 L353.57,160.16 L354.03,159.77 L354.50,159.37 L354.96,158.96 L355.43,158.55 L355.89,158.13 L356.35,157.71 L356.82,157.28 L357.28,156.85 L357.75,156.41 L358.21,155.96 L358.68,155.51 L359.14,155.05 L359.60,154.58 L360.07,154.11 L360.53,153.63 L361.00,153.14 L361.46,152.65 L361.93,152.15 L362.39,151.65 L362.85,151.14 L363.32,150.62 L363.78,150.09 L364.25,149.56 L364.71,149.02 L365.18,148.47 L365.64,147.92 L366.10,147.35 L366.57,146.79 L367.03,146.21 L367.50,145.63 L367.96,145.04 L368.43,144.44 L368.89,143.83 L369.35,143.22 L369.82,142.60 L370.28,141.97 L370.75,141.33 L371.21,140.69 L371.68,140.04 L372.14,139.38 L372.61,138.71 L373.07,138.04 L373.53,137.35 L374.00,136.66 L374.46,135.96 L374.93,135.25 L375.39,134.54 L375.86,133.82 L376.32,133.08 L376.78,132.34 L377.25,131.60 L377.71,130.84 L378.18,130.08 L378.64,129.30 L379.11,128.52 L379.57,127.73 L380.03,126.93 L380.50,126.13 L380.96,125.31 L381.43,124.49 L381.89,123.66 L382.36,122.81 L382.82,121.96 L383.28,121.10 L383.75,120.24 L384.21,119.36 L384.68,118.47 L385.14,117.58 L385.61,116.67 L386.07,115.76 L386.54,114.83 L387.00,113.90 L387.46,112.95 L387.93,112.00 L388.39,111.03 L388.86,110.05 L389.32,109.07 L389.79,108.07 L390.25,107.05 L390.71,106.03 L391.18,104.99 L391.64,103.94 L392.11,102.88 L392.57,101.80 L393.04,100.71 L393.50,99.60" stroke="#ff0000" stroke-width="2.8" fill="none" stroke-linejoin="round" clip-path="url(#d)"/>
<path d="M211.45,185.70 L211.81,185.70 L212.18,185.70 L212.54,185.70 L212.91,185.70 L213.27,185.70 L213.64,185.70 L214.00,185.70 L214.37,185.70 L214.73,185.70 L215.10,185.70 L215.46,185.70 L215.83,185.70 L216.19,185.70 L216.56,185.70 L216.92,185.70 L217.29,185.70 L217.65,185.70 L218.02,185.70 L218.38,185.70 L218.75,185.70 L219.11,185.70 L219.48,185.70 L219.84,185.70 L220.21,185.70 L220.57,185.70 L220.94,185.70 L221.30,185.70 L221.67,185.70 L222.03,185.70 L222.39,185.70 L222.76,185.70 L223.12,185.70 L223.49,185.70 L223.85,185.70 L224.22,185.70 L224.58,185.70 L224.95,185.70 L225.31,185.70 L225.68,185.70 L226.04,185.70 L226.41,185.70 L226.77,185.70 L227.14,185.70 L227.50,185.70 L227.87,185.70 L228.23,185.70 L228.60,185.70 L228.96,185.70 L229.33,185.70 L229.69,185.70 L230.06,185.70 L230.42,185.70 L230.79,185.70 L231.15,185.70 L231.52,185.70 L231.88,185.70 L232.25,185.70 L232.61,185.70 L232.97,185.70 L233.34,185.70 L233.70,185.70 L234.07,185.70 L234.43,185.70 L234.80,185.70 L235.16,185.70 L235.53,185.70 L235.89,185.69 L236.26,185.69 L236.62,185.69 L236.99,185.69 L237.35,185.69 L237.72,185.69 L238.08,185.69 L238.45,185.69 L238.81,185.69 L239.18,185.69 L239.54,185.69 L239.91,185.69 L240.27,185.69 L240.64,185.69 L241.00,185.69 L241.37,185.69 L241.73,185.69 L242.10,185.69 L242.46,185.69 L242.83,185.69 L243.19,185.69 L243.56,185.69 L243.92,185.69 L244.28,185.69 L244.65,185.69 L245.01,185.69 L245.38,185.69 L245.74,185.69 L246.11,185.69 L246.47,185.69 L246.84,185.69 L247.20,185.69 L247.57,185.69 L247.93,185.69 L248.30,185.69 L248.66,185.69 L249.03,185.69 L249.39,185.69 L249.76,185.69 L250.12,185.69 L250.49,185.69 L250.85,185.69 L251.22,185.69 L251.58,185.69 L251.95,185.68 L252.31,185.68 L252.68,185.68 L253.04,185.68 L253.41,185.68 L253.77,185.68 L254.14,185.68 L254.50,185.68 L254.86,185.68 L255.23,185.68 L255.59,185.68 L255.96,185.68 L256.32,185.68 L256.69,185.68 L257.05,185.68 L257.42,185.68 L257.78,185.68 L258.15,185.68 L258.51,185.68 L258.88,185.68 L259.24,185.67 L259.61,185.67 L259.97,185.67 L260.34,185.67 L260.70,185.67 L261.07,185.67 L261.43,185.67 L261.80,185.67 L262.16,185.67 L262.53,185.67 L262.89,185.67 L263.26,185.67 L263.62,185.67 L263.99,185.66 L264.35,185.66 L264.72,185.66 L265.08,185.66 L265.44,185.66 L265.81,185.66 L266.17,185.66 L266.54,185.66 L266.90,185.66 L267.27,185.66 L267.63,185.65 L268.00,185.65 L268.36,185.65 L268.73,185.65 L269.09,185.65 L269.46,185.65 L269.82,185.65 L270.19,185.65 L270.55,185.64 L270.92,185.64 L271.28,185.64 L271.65,185.64 L272.01,185.64 L272.38,185.64 L272.74,185.64 L273.11,185.63 L273.47,185.63 L273.84,185.63 L274.20,185.63 L274.57,185.63 L274.93,185.63 L275.30,185.62 L275.66,185.62 L276.02,185.62 L276.39,185.62 L276.75,185.62 L277.12,185.61 L277.48,185.61 L277.85,185.61 L278.21,185.61 L278.58,185.60 L278.94,185.60 L279.31,185.60 L279.67,185.60 L280.04,185.59 L280.40,185.59 L280.77,185.59 L281.13,185.59 L281.50,185.58 L281.86,185.58 L282.23,185.58 L282.59,185.57 L282.96,185.57 L283.32,185.57 L283.69,185.56 L284.05,185.56 L284.42,185.56 L284.78,185.55 L285.15,185.55 L285.51,185.55 L285.88,185.54 L286.24,185.54 L286.60,185.53 L286.97,185.53 L287.33,185.53 L287.70,185.52 L288.06,185.52 L288.43,185.51 L288.79,185.51 L289.16,185.50 L289.52,185.50 L289.89,185.49 L290.25,185.49 L290.62,185.48 L290.98,185.48 L291.35,185.47 L291.71,185.47 L292.08,185.46 L292.44,185.45 L292.81,185.45 L293.17,185.44 L293.54,185.44 L293.90,185.43 L294.27,185.42 L294.63,185.42 L295.00,185.41 L295.36,185.40 L295.73,185.39 L296.09,185.39 L296.46,185.38 L296.82,185.37 L297.18,185.36 L297.55,185.35 L297.91,185.34 L298.28,185.34 L298.64,185.33 L299.01,185.32 L299.37,185.31 L299.74,185.30 L300.10,185.29 L300.47,185.28 L300.83,185.27 L301.20,185.26 L301.56,185.24 L301.93,185.23 L302.29,185.22 L302.66,185.21 L303.02,185.20 L303.39,185.18 L303.75,185.17 L304.12,185.16 L304.48,185.15 L304.85,185.13 L305.21,185.12 L305.58,185.10 L305.94,185.09 L306.31,185.07 L306.67,185.06 L307.04,185.04 L307.40,185.03 L307.77,185.01 L308.13,184.99 L308.49,184.97 L308.86,184.96 L309.22,184.94 L309.59,184.92 L309.95,184.90 L310.32,184.88 L310.68,184.86 L311.05,184.84 L311.41,184.82 L311.78,184.80 L312.14,184.77 L312.51,184.75 L312.87,184.73 L313.24,184.70 L313.60,184.68 L313.97,184.65 L314.33,184.63 L314.70,184.60 L315.06,184.58 L315.43,184.55 L315.79,184.52 L316.16,184.49 L316.52,184.46 L316.89,184.43 L317.25,184.40 L317.62,184.37 L317.98,184.34 L318.35,184.30 L318.71,184.27 L319.07,184.23 L319.44,184.20 L319.80,184.16 L320.17,184.13 L320.53,184.09 L320.90,184.05 L321.26,184.01 L321.63,183.97 L321.99,183.93 L322.36,183.88 L322.72,183.84 L323.09,183.79 L323.45,183.75 L323.82,183.70 L324.18,183.65 L324.55,183.60 L324.91,183.55 L325.28,183.50 L325.64,183.45 L326.01,183.40 L326.37,183.34 L326.74,183.28 L327.10,183.23 L327.47,183.17 L327.83,183.11 L328.20,183.05 L328.56,182.98 L328.93,182.92 L329.29,182.85 L329.65,182.79 L330.02,182.72 L330.38,182.65 L330.75,182.57 L331.11,182.50 L331.48,182.43 L331.84,182.35 L332.21,182.27 L332.57,182.19 L332.94,182.11 L333.30,182.02 L333.67,181.94 L334.03,181.85 L334.40,181.76 L334.76,181.67 L335.13,181.57 L335.49,181.48 L335.86,181.38 L336.22,181.28 L336.59,181.18 L336.95,181.08 L337.32,180.97 L337.68,180.86 L338.05,180.75 L338.41,180.64 L338.78,180.52 L339.14,180.40 L339.51,180.28 L339.87,180.16 L340.23,180.03 L340.60,179.91 L340.96,179.78 L341.33,179.64 L341.69,179.51 L342.06,179.37 L342.42,179.22 L342.79,179.08 L343.15,178.93 L343.52,178.78 L343.88,178.63 L344.25,178.47 L344.61,178.31 L344.98,178.15 L345.34,177.98 L345.71,177.81 L346.07,177.64 L346.44,177.46 L346.80,177.28 L347.17,177.10 L347.53,176.91 L347.90,176.72 L348.26,176.53 L348.63,176.33 L348.99,176.13 L349.36,175.92 L349.72,175.71 L350.09,175.50 L350.45,175.28 L350.81,175.06 L351.18,174.84 L351.54,174.61 L351.91,174.37 L352.27,174.14 L352.64,173.89 L353.00,173.65 L353.37,173.40 L353.73,173.14 L354.10,172.89 L354.46,172.62 L354.83,172.35 L355.19,172.08 L355.56,171.80 L355.92,171.52 L356.29,171.24 L356.65,170.95 L357.02,170.65 L357.38,170.35 L357.75,170.05 L358.11,169.74 L358.48,169.42 L358.84,169.10 L359.21,168.78 L359.57,168.45 L359.94,168.11 L360.30,167.78 L360.67,167.43 L361.03,167.08 L361.39,166.73 L361.76,166.37 L362.12,166.00 L362.49,165.64 L362.85,165.26 L363.22,164.88 L363.58,164.50 L363.95,164.11 L364.31,163.72 L364.68,163.32 L365.04,162.91 L365.41,162.50 L365.77,162.09 L366.14,161.67 L366.50,161.25 L366.87,160.82 L367.23,160.39 L367.60,159.95 L367.96,159.50 L368.33,159.06 L368.69,158.61 L369.06,158.15 L369.42,157.69 L369.79,157.22 L370.15,156.75 L370.52,156.28 L370.88,155.80 L371.25,155.32 L371.61,154.83 L371.98,154.34 L372.34,153.85 L372.70,153.35 L373.07,152.84 L373.43,152.34 L373.80,151.83 L374.16,151.32 L374.53,150.80 L374.89,150.28 L375.26,149.76 L375.62,149.23 L375.99,148.70 L376.35,148.17 L376.72,147.63 L377.08,147.09 L377.45,146.55 L377.81,146.01 L378.18,145.46 L378.54,144.91 L378.91,144.36 L379.27,143.80 L379.64,143.24 L380.00,142.68 L380.37,142.12 L380.73,141.55 L381.10,140.98 L381.46,140.40 L381.83,139.83 L382.19,139.25 L382.56,138.66 L382.92,138.08 L383.28,137.48 L383.65,136.89 L384.01,136.28 L384.38,135.68 L384.74,135.06 L385.11,134.44 L385.47,133.81 L385.84,133.18 L386.20,132.54 L386.57,131.88 L386.93,131.22 L387.30,130.54 L387.66,129.85 L388.03,129.15 L388.39,128.43 L388.76,127.69 L389.12,126.94 L389.49,126.16 L389.85,125.36 L390.22,124.54 L390.58,123.68 L390.95,122.80 L391.31,121.89 L391.68,120.93 L392.04,119.94 L392.41,118.91 L392.77,117.83 L393.14,116.69 L393.50,115.50" stroke="#ffa500" stroke-width="2.8" fill="none" stroke-linejoin="round" clip-path="url(#d)"/>
<path d="M62.50,185.70 L63.16,185.70 L63.83,185.70 L64.49,185.70 L65.15,185.70 L65.82,185.70 L66.48,185.70 L67.14,185.70 L67.81,185.70 L68.47,185.70 L69.13,185.70 L69.80,185.70 L70.46,185.70 L71.12,185.70 L71.79,185.70 L72.45,185.70 L73.11,185.70 L73.78,185.70 L74.44,185.70 L75.10,185.70 L75.77,185.70 L76.43,185.70 L77.09,185.70 L77.76,185.70 L78.42,185.70 L79.08,185.70 L79.75,185.70 L80.41,185.70 L81.07,185.70 L81.74,185.70 L82.40,185.70 L83.06,185.70 L83.73,185.70 L84.39,185.70 L85.05,185.70 L85.72,185.70 L86.38,185.70 L87.04,185.70 L87.71,185.70 L88.37,185.70 L89.03,185.70 L89.70,185.70 L90.36,185.70 L91.02,185.70 L91.69,185.70 L92.35,185.70 L93.01,185.70 L93.68,185.70 L94.34,185.71 L95.00,185.71 L95.67,185.71 L96.33,185.71 L96.99,185.71 L97.66,185.71 L98.32,185.71 L98.98,185.71 L99.65,185.71 L100.31,185.71 L100.97,185.71 L101.64,185.71 L102.30,185.71 L102.96,185.71 L103.63,185.71 L104.29,185.71 L104.95,185.71 L105.62,185.71 L106.28,185.71 L106.94,185.71 L107.61,185.71 L108.27,185.71 L108.93,185.71 L109.60,185.71 L110.26,185.71 L110.92,185.71 L111.59,185.71 L112.25,185.71 L112.91,185.71 L113.58,185.71 L114.24,185.72 L114.90,185.72 L115.57,185.72 L116.23,185.72 L116.89,185.72 L117.56,185.72 L118.22,185.72 L118.88,185.72 L119.55,185.72 L120.21,185.72 L120.87,185.72 L121.54,185.72 L122.20,185.72 L122.86,185.72 L123.53,185.72 L124.19,185.72 L124.85,185.72 L125.52,185.73 L126.18,185.73 L126.84,185.73 L127.51,185.73 L128.17,185.73 L128.83,185.73 L129.50,185.73 L130.16,185.73 L130.82,185.73 L131.49,185.73 L132.15,185.73 L132.81,185.73 L133.48,185.73 L134.14,185.74 L134.80,185.74 L135.47,185.74 L136.13,185.74 L136.79,185.74 L137.46,185.74 L138.12,185.74 L138.78,185.74 L139.45,185.74 L140.11,185.74 L140.77,185.75 L141.44,185.75 L142.10,185.75 L142.76,185.75 L143.43,185.75 L144.09,185.75 L144.75,185.75 L145.42,185.75 L146.08,185.75 L146.74,185.76 L147.41,185.76 L148.07,185.76 L148.73,185.76 L149.40,185.76 L150.06,185.76 L150.72,185.76 L151.39,185.77 L152.05,185.77 L152.71,185.77 L153.38,185.77 L154.04,185.77 L154.70,185.77 L155.37,185.78 L156.03,185.78 L156.69,185.78 L157.36,185.78 L158.02,185.78 L158.68,185.78 L159.35,185.79 L160.01,185.79 L160.67,185.79 L161.34,185.79 L162.00,185.79 L162.66,185.80 L163.33,185.80 L163.99,185.80 L164.65,185.80 L165.32,185.80 L165.98,185.81 L166.64,185.81 L167.31,185.81 L167.97,185.81 L168.63,185.82 L169.30,185.82 L169.96,185.82 L170.62,185.82 L171.29,185.83 L171.95,185.83 L172.61,185.83 L173.28,185.84 L173.94,185.84 L174.60,185.84 L175.27,185.84 L175.93,185.85 L176.59,185.85 L177.26,185.85 L177.92,185.86 L178.58,185.86 L179.25,185.86 L179.91,185.87 L180.57,185.87 L181.24,185.87 L181.90,185.88 L182.56,185.88 L183.23,185.88 L183.89,185.89 L184.55,185.89 L185.22,185.90 L185.88,185.90 L186.54,185.90 L187.21,185.91 L187.87,185.91 L188.53,185.92 L189.20,185.92 L189.86,185.93 L190.52,185.93 L191.19,185.94 L191.85,185.94 L192.51,185.95 L193.18,185.95 L193.84,185.96 L194.50,185.96 L195.17,185.97 L195.83,185.97 L196.49,185.98 L197.16,185.98 L197.82,185.99 L198.48,185.99 L199.15,186.00 L199.81,186.01 L200.47,186.01 L201.14,186.02 L201.80,186.02 L202.46,186.03 L203.13,186.04 L203.79,186.04 L204.45,186.05 L205.12,186.06 L205.78,186.07 L206.44,186.07 L207.11,186.08 L207.77,186.09 L208.43,186.09 L209.10,186.10 L209.76,186.11 L210.42,186.12 L211.09,186.13 L211.75,186.13 L212.41,186.14 L213.08,186.15 L213.74,186.16 L214.40,186.17 L215.07,186.18 L215.73,186.19 L216.39,186.20 L217.06,186.21 L217.72,186.22 L218.38,186.23 L219.05,186.24 L219.71,186.25 L220.37,186.26 L221.04,186.27 L221.70,186.28 L222.36,186.29 L223.03,186.30 L223.69,186.31 L224.35,186.32 L225.02,186.34 L225.68,186.35 L226.34,186.36 L227.01,186.37 L227.67,186.38 L228.33,186.40 L228.99,186.41 L229.66,186.42 L230.32,186.44 L230.98,186.45 L231.65,186.46 L232.31,186.48 L232.97,186.49 L233.64,186.51 L234.30,186.52 L234.96,186.54 L235.63,186.55 L236.29,186.57 L236.95,186.58 L237.62,186.60 L238.28,186.61 L238.94,186.63 L239.61,186.65 L240.27,186.66 L240.93,186.68 L241.60,186.70 L242.26,186.72 L242.92,186.73 L243.59,186.75 L244.25,186.77 L244.91,186.79 L245.58,186.81 L246.24,186.83 L246.90,186.85 L247.57,186.87 L248.23,186.89 L248.89,186.91 L249.56,186.93 L250.22,186.95 L250.88,186.97 L251.55,186.99 L252.21,187.02 L252.87,187.04 L253.54,187.06 L254.20,187.08 L254.86,187.11 L255.53,187.13 L256.19,187.15 L256.85,187.18 L257.52,187.20 L258.18,187.23 L258.84,187.25 L259.51,187.28 L260.17,187.30 L260.83,187.33 L261.50,187.36 L262.16,187.38 L262.82,187.41 L263.49,187.44 L264.15,187.46 L264.81,187.49 L265.48,187.52 L266.14,187.55 L266.80,187.58 L267.47,187.61 L268.13,187.64 L268.79,187.66 L269.46,187.69 L270.12,187.73 L270.78,187.76 L271.45,187.79 L272.11,187.82 L272.77,187.85 L273.44,187.88 L274.10,187.91 L274.76,187.94 L275.43,187.98 L276.09,188.01 L276.75,188.04 L277.42,188.08 L278.08,188.11 L278.74,188.14 L279.41,188.18 L280.07,188.21 L280.73,188.24 L281.40,188.28 L282.06,188.31 L282.72,188.35 L283.39,188.38 L284.05,188.42 L284.71,188.45 L285.38,188.49 L286.04,188.52 L286.70,188.56 L287.37,188.59 L288.03,188.63 L288.69,188.66 L289.36,188.70 L290.02,188.74 L290.68,188.77 L291.35,188.81 L292.01,188.84 L292.67,188.88 L293.34,188.91 L294.00,188.95 L294.66,188.98 L295.33,189.02 L295.99,189.05 L296.65,189.08 L297.32,189.12 L297.98,189.15 L298.64,189.18 L299.31,189.22 L299.97,189.25 L300.63,189.28 L301.30,189.31 L301.96,189.34 L302.62,189.37 L303.29,189.40 L303.95,189.43 L304.61,189.46 L305.28,189.49 L305.94,189.51 L306.60,189.54 L307.27,189.56 L307.93,189.59 L308.59,189.61 L309.26,189.63 L309.92,189.65 L310.58,189.67 L311.25,189.69 L311.91,189.71 L312.57,189.72 L313.24,189.74 L313.90,189.75 L314.56,189.76 L315.23,189.77 L315.89,189.77 L316.55,189.78 L317.22,189.78 L317.88,189.78 L318.54,189.78 L319.21,189.78 L319.87,189.77 L320.53,189.77 L321.20,189.75 L321.86,189.74 L322.52,189.73 L323.19,189.71 L323.85,189.68 L324.51,189.66 L325.18,189.63 L325.84,189.60 L326.50,189.56 L327.17,189.52 L327.83,189.48 L328.49,189.44 L329.16,189.38 L329.82,189.33 L330.48,189.27 L331.15,189.21 L331.81,189.14 L332.47,189.07 L333.14,188.99 L333.80,188.90 L334.46,188.81 L335.13,188.72 L335.79,188.62 L336.45,188.51 L337.12,188.40 L337.78,188.28 L338.44,188.16 L339.11,188.03 L339.77,187.89 L340.43,187.74 L341.10,187.59 L341.76,187.43 L342.42,187.26 L343.09,187.09 L343.75,186.90 L344.41,186.71 L345.08,186.50 L345.74,186.29 L346.40,186.07 L347.07,185.84 L347.73,185.60 L348.39,185.35 L349.06,185.09 L349.72,184.82 L350.38,184.54 L351.05,184.25 L351.71,183.94 L352.37,183.63 L353.04,183.30 L353.70,182.96 L354.36,182.60 L355.03,182.23 L355.69,181.85 L356.35,181.46 L357.02,181.05 L357.68,180.63 L358.34,180.19 L359.01,179.74 L359.67,179.27 L360.33,178.79 L361.00,178.29 L361.66,177.77 L362.32,177.24 L362.99,176.69 L363.65,176.13 L364.31,175.54 L364.98,174.94 L365.64,174.32 L366.30,173.68 L366.97,173.02 L367.63,172.34 L368.29,171.65 L368.96,170.93 L369.62,170.19 L370.28,169.43 L370.95,168.65 L371.61,167.85 L372.27,167.03 L372.94,166.19 L373.60,165.32 L374.26,164.44 L374.93,163.53 L375.59,162.60 L376.25,161.64 L376.92,160.66 L377.58,159.66 L378.24,158.64 L378.91,157.59 L379.57,156.52 L380.23,155.43 L380.90,154.31 L381.56,153.17 L382.22,152.01 L382.89,150.82 L383.55,149.62 L384.21,148.38 L384.88,147.13 L385.54,145.85 L386.20,144.55 L386.87,143.23 L387.53,141.89 L388.19,140.53 L388.86,139.15 L389.52,137.75 L390.18,136.33 L390.85,134.89 L391.51,133.44 L392.17,131.97 L392.84,130.48 L393.50,128.98" stroke="#c080ff" stroke-width="2.8" fill="none" stroke-linejoin="round" clip-path="url(#d)"/>
<rect x="62.5" y="9.5" width="331.00" height="185.00" fill="none" stroke="#000" stroke-width="1"/>
<g font-family="'Liberation Serif', serif" fill="#000" text-rendering="geometricPrecision" opacity="0.999">
<text transform="translate(64.80,211.50) scale(0.98,1)" text-anchor="middle" font-size="19.5" >0</text>
<text transform="translate(57.50,192.79) scale(0.98,1)" text-anchor="end" font-size="19.5" >0</text>
<text transform="translate(147.55,211.50) scale(0.98,1)" text-anchor="middle" font-size="19.5" >0.25</text>
<text transform="translate(57.50,148.74) scale(0.98,1)" text-anchor="end" font-size="19.5" >0.25</text>
<text transform="translate(230.30,211.50) scale(0.98,1)" text-anchor="middle" font-size="19.5" >0.5</text>
<text transform="translate(57.50,104.69) scale(0.98,1)" text-anchor="end" font-size="19.5" >0.5</text>
<text transform="translate(313.05,211.50) scale(0.98,1)" text-anchor="middle" font-size="19.5" >0.75</text>
<text transform="translate(57.50,60.65) scale(0.98,1)" text-anchor="end" font-size="19.5" >0.75</text>
<text transform="translate(395.80,211.50) scale(0.98,1)" text-anchor="middle" font-size="19.5" >1</text>
<text transform="translate(57.50,16.60) scale(0.98,1)" text-anchor="end" font-size="19.5" >1</text>
<text transform="translate(228.40,232.80) scale(1.19,1)" text-anchor="middle" font-size="18.6" >ρ/R</text>
<text transform="translate(15.70,164.70) rotate(-90) scale(0.976,1)" text-anchor="start" font-size="22">A(ρ)/A</text>
<text transform="translate(20.50,102.70) rotate(-90) scale(1.13,1)" text-anchor="start" font-size="15.4">local</text>
<text transform="translate(15.70,68.80) rotate(-90) scale(0.976,1)" text-anchor="start" font-size="22">(R)</text>
<text transform="translate(219.40,27.00) scale(0.927,1)" text-anchor="end" font-size="19.5" >Local, l=10 nm</text>
<path d="M228.6,19.5 H269" stroke="#000" stroke-width="2.2" stroke-dasharray="5.5 9.3" fill="none"/>
<circle cx="248.6" cy="19.5" r="3.0" fill="#000"/>
<text transform="translate(219.40,47.00) scale(0.927,1)" text-anchor="end" font-size="19.5" >Nonlocal, l = 10 nm</text>
<path d="M228.6,39.50 H269" stroke="#bebebe" stroke-width="2.6" fill="none"/>
<text transform="translate(219.40,67.00) scale(0.927,1)" text-anchor="end" font-size="19.5" >20 nm</text>
<path d="M228.6,59.50 H269" stroke="#0000ff" stroke-width="2.8" fill="none"/>
<text transform="translate(219.40,87.00) scale(0.927,1)" text-anchor="end" font-size="19.5" >50 nm</text>
<path d="M228.6,79.50 H269" stroke="#ff0000" stroke-width="2.8" fill="none"/>
<text transform="translate(219.40,107.00) scale(0.927,1)" text-anchor="end" font-size="19.5" >100 nm</text>
<path d="M228.6,99.50 H269" stroke="#ffa500" stroke-width="2.8" fill="none"/>
<text transform="translate(219.40,127.00) scale(0.927,1)" text-anchor="end" font-size="19.5" >500 nm</text>
<path d="M228.6,119.50 H269" stroke="#c080ff" stroke-width="2.8" fill="none"/>
</g>
</svg>
</body></html>
